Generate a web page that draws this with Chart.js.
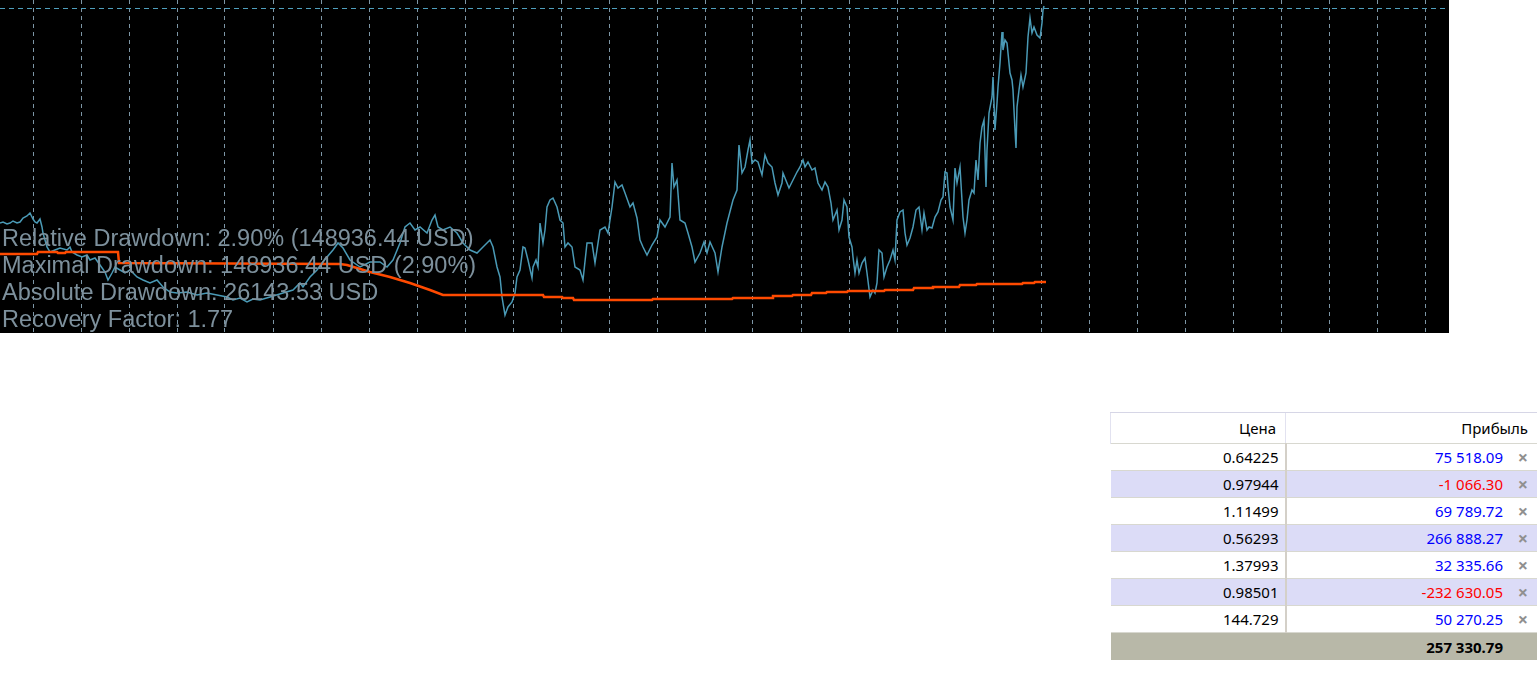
<!DOCTYPE html>
<html>
<head>
<meta charset="utf-8">
<script src="https://cdn.jsdelivr.net/npm/chart.js@4"></script>
<style>
  html, body { margin: 0; padding: 0; background: #fff; }
  #wrap { position: absolute; left: 0; top: 0; width: 1449px; height: 333px; background: #000; }
  #deals { position: absolute; left: 1110px; top: 412px; width: 427px; border-collapse: collapse;
           font-family: "Noto Sans", sans-serif; font-size: 15px; color: #000; }
  #deals th { font-weight: normal; height: 30px; text-align: right; background: #fff;
              border-top: 1px solid #d6d6e6; border-left: 1px solid #e2e2f0; padding: 0 9px 0 0; }
  #deals td { height: 26px; text-align: right; padding: 0 6px 0 0; border-top: 1px solid #d8d8d0; }
  #deals td.c1 { width: 167px; border-right: 2px solid #d4d0c8; }
  #deals td.c2 { padding-right: 9px; }
  #deals tr.alt td { background: #dcdcf7; }
  #deals tr.odd td { background: #fff; }
  #deals tr.total td { background: #b8b8a8; font-weight: bold; height: 27px; border-right: none; }
  .pos { color: #0000ff; }
  .neg { color: #ff0000; }
  .x { display: inline-block; width: 25px; text-align: right; color: #909090; font-weight: bold;
       font-size: 18px; line-height: 15px; vertical-align: -1px; }
</style>
</head>
<body>
<div id="wrap"><canvas id="equityChart"></canvas></div>
<table id="deals"></table>
<script>
// equity curve (trade index / value)
const equityX = [
  0, 3, 7, 10, 13, 17, 20, 23, 27, 30, 33, 35, 37, 40, 42, 43, 47, 50, 55, 60,
  67, 70, 72, 77, 82, 87, 90, 95, 100, 105, 108, 112, 115, 120, 125, 130, 137, 143, 150, 157,
  163, 170, 177, 187, 197, 207, 217, 227, 233, 240, 247, 253, 260, 270, 283, 293, 300, 303, 310, 317,
  322, 327, 333, 338, 343, 350, 360, 370, 380, 387, 393, 400, 405, 410, 415, 420, 427, 432, 435, 438,
  443, 450, 457, 463, 470, 477, 483, 490, 493, 497, 500, 502, 505, 508, 512, 515, 517, 520, 523, 525,
  528, 532, 533, 536, 538, 540, 543, 545, 547, 550, 553, 557, 560, 563, 565, 568, 572, 575, 580, 583,
  587, 592, 595, 600, 605, 608, 612, 615, 618, 622, 625, 630, 633, 637, 640, 643, 647, 652, 657, 660,
  665, 670, 672, 674, 677, 680, 685, 688, 692, 695, 700, 704, 707, 710, 715, 718, 722, 727, 733, 737,
  739, 742, 745, 748, 750, 752, 755, 758, 762, 765, 768, 772, 775, 778, 782, 783, 787, 789, 793, 797,
  800, 803, 805, 808, 812, 815, 818, 822, 825, 828, 831, 833, 837, 839, 842, 844, 847, 849, 852, 853,
  855, 857, 859, 862, 865, 867, 870, 873, 875, 877, 879, 882, 884, 887, 890, 893, 895, 897, 900, 903,
  905, 907, 910, 913, 916, 919, 922, 924, 927, 929, 932, 935, 938, 941, 943, 945, 947, 948, 950, 953,
  955, 957, 960, 963, 965, 967, 969, 972, 974, 976, 978, 980, 982, 984, 986, 987, 989, 992, 993, 995,
  997, 998, 1000, 1002, 1003, 1005, 1007, 1008, 1010, 1012, 1013, 1015, 1016, 1017, 1019, 1021, 1023, 1026, 1028, 1030,
  1032, 1034, 1037, 1040, 1042, 1043, 1044
];
const equityY = [
  110, 111, 109, 110, 112, 110, 111, 115, 117, 120, 114, 111, 110, 114, 106, 100, 86, 81, 83, 85,
  83, 86, 81, 78, 76, 78, 73, 75, 68, 61, 53, 60, 66, 63, 60, 63, 56, 53, 50, 53,
  46, 41, 40, 41, 38, 40, 38, 36, 33, 35, 31, 34, 33, 36, 40, 43, 50, 46, 56, 63,
  70, 76, 83, 90, 85, 73, 66, 71, 71, 66, 73, 90, 106, 110, 103, 106, 100, 113, 118, 106,
  103, 106, 100, 90, 83, 80, 86, 93, 86, 66, 56, 36, 18, 26, 31, 40, 56, 63, 86, 85,
  73, 55, 66, 73, 66, 110, 90, 103, 126, 133, 135, 126, 113, 110, 86, 90, 86, 66, 63, 53,
  90, 90, 70, 103, 106, 100, 126, 151, 145, 148, 140, 126, 130, 115, 93, 86, 78, 88, 96, 113,
  106, 116, 170, 146, 153, 113, 110, 100, 86, 71, 80, 91, 80, 91, 80, 61, 86, 110, 133, 143,
  188, 160, 166, 183, 193, 170, 173, 171, 158, 178, 170, 166, 150, 138, 150, 160, 150, 145, 153, 161,
  166, 173, 166, 171, 163, 165, 150, 143, 151, 146, 130, 113, 123, 103, 113, 133, 126, 96, 86, 76,
  60, 73, 60, 70, 75, 60, 36, 43, 40, 50, 83, 80, 56, 66, 73, 83, 73, 113, 121, 123,
  100, 88, 95, 106, 123, 126, 103, 120, 103, 106, 105, 116, 121, 133, 136, 161, 160, 146, 126, 113,
  165, 150, 166, 116, 100, 113, 133, 143, 140, 173, 153, 190, 206, 213, 146, 183, 220, 236, 256, 203,
  230, 246, 270, 301, 283, 293, 290, 280, 260, 253, 243, 203, 185, 226, 243, 258, 246, 260, 296, 315,
  300, 306, 298, 295, 310, 323, 327
];
// drawdown base line (orange)
const baseX = [
  0, 37, 38, 57, 58, 65, 66, 85, 118, 119, 340, 347, 370, 390, 410, 430, 443, 543, 544, 562,
  563, 573, 574, 652, 653, 732, 733, 772, 773, 792, 793, 811, 812, 826, 827, 847, 848, 884, 885, 913,
  914, 932, 933, 959, 960, 976, 977, 1022, 1023, 1034, 1035, 1046
];
const baseY = [
  79, 79, 81, 81, 80, 80, 81, 81, 81, 70, 69, 68, 61, 56, 50, 43, 38, 38, 36, 36,
  35, 35, 33, 33, 34, 34, 35, 35, 37, 37, 38, 38, 40, 40, 41, 41, 42, 42, 43, 43,
  45, 45, 46, 46, 48, 48, 49, 49, 50, 50, 51, 51
];
const gridX = [33, 81, 129, 177, 225, 273, 321, 369, 417, 465, 513, 561, 609, 657, 705,
  753, 801, 849, 897, 945, 993, 1041, 1089, 1137, 1185, 1233, 1281, 1329, 1377, 1425];
const gridY = [325];

const statLines = [
  'Relative Drawdown: 2.90% (148936.44 USD)',
  'Maximal Drawdown: 148936.44 USD (2.90%)',
  'Absolute Drawdown: 26143.53 USD',
  'Recovery Factor: 1.77'
];

// deals table
const prices = ['0.64225', '0.97944', '1.11499', '0.56293', '1.37993', '0.98501', '144.729'];
const profits = [75518.09, -1066.30, 69789.72, 266888.27, 32335.66, -232630.05, 50270.25];
const totalProfit = 257330.79;

function fmt(v) {
  const s = Math.abs(v).toFixed(2).split('.');
  const int = s[0].replace(/\B(?=(\d{3})+(?!\d))/g, ' ');
  return (v < 0 ? '-' : '') + int + '.' + s[1];
}

let html = '<tr><th style="width:165px">Цена</th><th>Прибыль</th></tr>';
prices.forEach((p, i) => {
  html += '<tr class="' + (i % 2 ? 'alt' : 'odd') + '"><td class="c1">' + p + '</td>' +
    '<td class="c2"><span class="' + (profits[i] < 0 ? 'neg' : 'pos') + '">' + fmt(profits[i]) +
    '</span><span class="x">×</span></td></tr>';
});
html += '<tr class="total"><td class="c1" style="border-right:none"></td><td class="c2">' +
  fmt(totalProfit) + '<span class="x"></span></td></tr>';
document.getElementById('deals').innerHTML = html;

const statsText = {
  id: 'statsText',
  afterDatasetsDraw(chart) {
    const c = chart.ctx;
    c.save();
    c.font = '23.5px "Liberation Sans", Arial, sans-serif';
    c.fillStyle = '#7d909c';
    c.textBaseline = 'alphabetic';
    statLines.forEach((t, i) => c.fillText(t, 2, 246 + i * 27));
    c.restore();
  }
};

const ctx = document.getElementById('equityChart').getContext('2d');
new Chart(ctx, {
  type: 'line',
  data: {
    datasets: [
      {
        data: baseX.map((x, i) => ({ x: x, y: baseY[i] })),
        borderColor: '#ff4a00',
        borderWidth: 2.5,
        pointRadius: 0,
        tension: 0,
        order: 0
      },
      {
        data: equityX.map((x, i) => ({ x: x, y: equityY[i] })),
        borderColor: '#4a9ab6',
        borderWidth: 1.5,
        pointRadius: 0,
        tension: 0,
        order: 1
      }
    ]
  },
  options: {
    responsive: true,
    maintainAspectRatio: false,
    animation: false,
    layout: { padding: 0 },
    plugins: { legend: { display: false }, tooltip: { enabled: false } },
    scales: {
      x: {
        type: 'linear', min: 0, max: 1449,
        afterBuildTicks: s => { s.ticks = gridX.map(v => ({ value: v })); },
        ticks: { display: false },
        grid: { color: '#7d96a6', drawTicks: false },
        border: { display: false, dash: [4, 4] }
      },
      y: {
        type: 'linear', min: 0, max: 333,
        afterBuildTicks: s => { s.ticks = gridY.map(v => ({ value: v })); },
        ticks: { display: false },
        grid: { color: '#4f9fbd', drawTicks: false },
        border: { display: false, dash: [5, 4] }
      }
    }
  },
  plugins: [statsText]
});
</script>
</body>
</html>
